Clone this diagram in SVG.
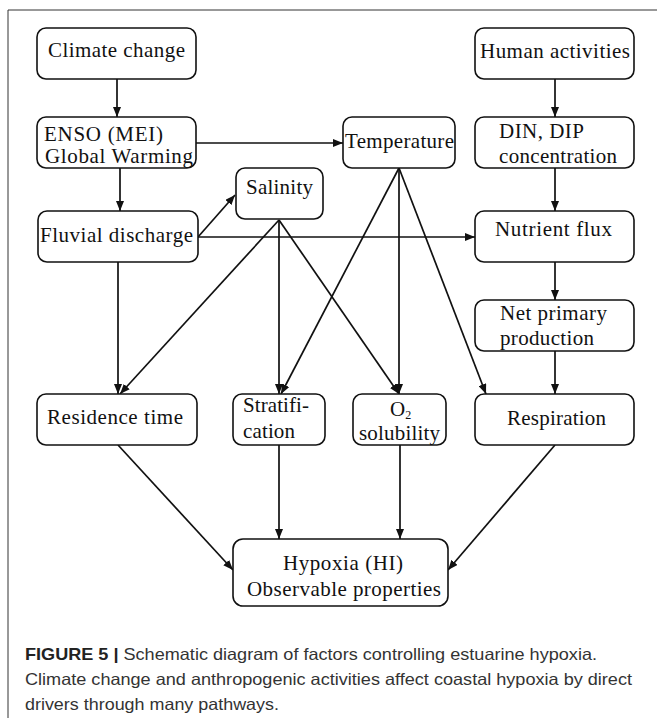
<svg xmlns="http://www.w3.org/2000/svg" width="657" height="725" viewBox="0 0 657 725">
<style>
.box{fill:#fff;stroke:#111;stroke-width:1.6}
.t{font-family:"Liberation Serif","Times New Roman",serif;font-size:21px;fill:#111}
.c line{stroke:#111;stroke-width:1.7;marker-end:url(#ah)}
.cap{font-family:"Liberation Sans",Arial,sans-serif;font-size:16.5px;fill:#333}
</style>
<defs>
<marker id="ah" viewBox="0 0 10 8" refX="10" refY="4" markerWidth="10" markerHeight="8" markerUnits="userSpaceOnUse" orient="auto">
<path d="M0,0 L10,4 L0,8 z" fill="#111"/>
</marker>
</defs>
<rect width="657" height="725" fill="#fff"/>
<path d="M657,10 H8 V718" fill="none" stroke="#333" stroke-width="1"/>

<g class="c" id="connectors">
<line x1="117" y1="79" x2="117" y2="117"/>
<line x1="120" y1="168" x2="120" y2="211"/>
<line x1="196" y1="143" x2="343" y2="143"/>
<line x1="555" y1="79" x2="555" y2="117"/>
<line x1="555" y1="168" x2="555" y2="211"/>
<line x1="555" y1="262" x2="555" y2="300"/>
<line x1="555" y1="351" x2="555" y2="394"/>
<line x1="198" y1="237" x2="235" y2="195"/>
<line x1="198" y1="237" x2="475" y2="237"/>
<line x1="118" y1="262" x2="118" y2="394"/>
<line x1="279" y1="220" x2="120" y2="394"/>
<line x1="279" y1="220" x2="279" y2="394"/>
<line x1="279" y1="220" x2="399" y2="394"/>
<line x1="399" y1="168" x2="281" y2="394"/>
<line x1="399" y1="168" x2="399" y2="394"/>
<line x1="399" y1="168" x2="486" y2="394"/>
<line x1="118" y1="445" x2="233" y2="570"/>
<line x1="279" y1="445" x2="279" y2="539"/>
<line x1="400" y1="445" x2="400" y2="539"/>
<line x1="555" y1="445" x2="448" y2="570"/>
</g>

<g id="climate"><rect class="box" x="37" y="28" width="159" height="51" rx="9"/><text class="t" x="48" y="57" textLength="137">Climate change</text></g>
<g id="enso"><rect class="box" x="37" y="117" width="159" height="51" rx="9"/><text class="t" x="44" y="141" textLength="119">ENSO (MEI)</text><text class="t" x="45" y="163" textLength="148">Global Warming</text></g>
<g id="fluvial"><rect class="box" x="38" y="211" width="160" height="51" rx="9"/><text class="t" x="40" y="242" textLength="153">Fluvial discharge</text></g>
<g id="salinity"><rect class="box" x="236" y="168" width="87" height="51" rx="9"/><text class="t" x="246" y="194" textLength="67">Salinity</text></g>
<g id="temperature"><rect class="box" x="343" y="117" width="112" height="51" rx="9"/><text class="t" x="345" y="148" textLength="109">Temperature</text></g>
<g id="human"><rect class="box" x="475" y="28" width="159" height="51" rx="9"/><text class="t" x="480" y="58" textLength="150">Human activities</text></g>
<g id="din"><rect class="box" x="475" y="117" width="159" height="51" rx="9"/><text class="t" x="499" y="138" textLength="85">DIN, DIP</text><text class="t" x="499" y="163" textLength="118">concentration</text></g>
<g id="nutrient"><rect class="box" x="475" y="211" width="159" height="51" rx="9"/><text class="t" x="495" y="236" textLength="117">Nutrient flux</text></g>
<g id="npp"><rect class="box" x="475" y="300" width="159" height="51" rx="9"/><text class="t" x="500" y="320" textLength="107">Net primary</text><text class="t" x="500" y="345" textLength="94">production</text></g>
<g id="respiration"><rect class="box" x="475" y="394" width="159" height="51" rx="9"/><text class="t" x="507" y="425" textLength="99">Respiration</text></g>
<g id="o2"><rect class="box" x="353" y="394" width="93" height="51" rx="9"/><text class="t" x="390" y="416">O<tspan font-size="12" dy="3">2</tspan></text><text class="t" x="359" y="440" textLength="81">solubility</text></g>
<g id="residence"><rect class="box" x="37" y="394" width="160" height="51" rx="9"/><text class="t" x="47" y="424" textLength="136">Residence time</text></g>
<g id="stratification"><rect class="box" x="233" y="394" width="92" height="51" rx="9"/><text class="t" x="243" y="412" textLength="66">Stratifi-</text><text class="t" x="243" y="438" textLength="52">cation</text></g>
<g id="hypoxia"><rect class="box" x="233" y="539" width="215" height="67" rx="10"/><text class="t" x="283" y="570" textLength="120">Hypoxia (HI)</text><text class="t" x="247" y="596" textLength="194">Observable properties</text></g>

<g id="caption">
<text class="cap" x="25" y="660" textLength="572" lengthAdjust="spacingAndGlyphs"><tspan font-weight="bold" fill="#222">FIGURE 5 |</tspan> Schematic diagram of factors controlling estuarine hypoxia.</text>
<text class="cap" x="25" y="685" textLength="607" lengthAdjust="spacingAndGlyphs">Climate change and anthropogenic activities affect coastal hypoxia by direct</text>
<text class="cap" x="25" y="710" textLength="254" lengthAdjust="spacingAndGlyphs">drivers through many pathways.</text>
</g>
</svg>
